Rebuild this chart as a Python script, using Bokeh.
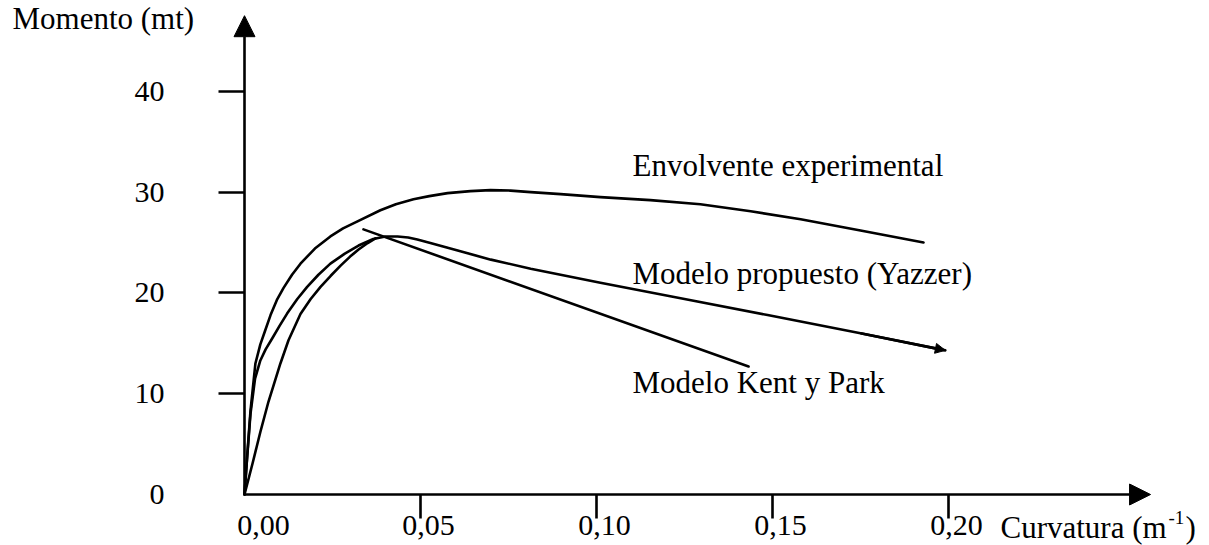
from bokeh.plotting import figure
from bokeh.models import (Range1d, LinearAxis, FixedTicker, Arrow, NormalHead, Label)
from bokeh.embed import file_html
from bokeh.resources import INLINE

# ---------------- data ----------------
env_x = [0.0, 0.0008, 0.0017, 0.0031, 0.0045, 0.0058, 0.0074, 0.0092, 0.0111, 0.0135,
         0.0159, 0.0200, 0.0244, 0.0280, 0.0321, 0.0386, 0.0430, 0.0480, 0.0525, 0.0577,
         0.0642, 0.0699, 0.0756, 0.0813, 0.0898, 0.1011, 0.1153, 0.1295, 0.1438, 0.1580,
         0.1750, 0.1929]
env_y = [0.0, 4.0, 8.3, 13.0, 14.9, 16.2, 17.8, 19.3, 20.5, 21.8,
         22.9, 24.4, 25.6, 26.4, 27.1, 28.2, 28.8, 29.3, 29.6, 29.9,
         30.1, 30.2, 30.15, 30.0, 29.8, 29.5, 29.2, 28.8, 28.1, 27.3,
         26.2, 25.0]

yaz_x = [0.0, 0.0007, 0.0017, 0.0030, 0.0045, 0.0060, 0.0079, 0.0100, 0.0121, 0.0150,
         0.0178, 0.0210, 0.0244, 0.0285, 0.0324, 0.0366, 0.0400, 0.0435, 0.0465, 0.0491,
         0.0528, 0.0585, 0.0700, 0.0813, 0.1011, 0.1250, 0.1486, 0.1750, 0.1991]
yaz_y = [0.0, 3.4, 8.0, 11.5, 13.3, 14.4, 15.5, 16.75, 17.95, 19.4,
         20.6, 21.8, 22.9, 23.9, 24.7, 25.35, 25.6, 25.6, 25.5, 25.3,
         24.95, 24.4, 23.3, 22.4, 21.0, 19.4, 17.8, 16.0, 14.3]

kp_up_x = [0.0, 0.0023, 0.0045, 0.0068, 0.0102, 0.0125, 0.0159, 0.0188, 0.0216, 0.0245,
           0.0273, 0.0300, 0.0324, 0.0350, 0.0372]
kp_up_y = [0.0, 3.1, 6.2, 9.2, 13.0, 15.3, 17.9, 19.4, 20.6, 21.7,
           22.7, 23.6, 24.3, 24.95, 25.4]
kp_down_x = [0.0338, 0.1432]
kp_down_y = [26.3, 12.7]

x_ticks = [0.05, 0.10, 0.15, 0.20]
x_tick_labels = ["0,05", "0,10", "0,15", "0,20"]
x_zero_label = "0,00"
y_ticks = [10, 20, 30, 40]
y_tick_labels = ["10", "20", "30", "40"]
y_zero_label = "0"

x_axis_end = 0.2574
y_axis_end = 47.5

curve_names = ["Envolvente experimental", "Modelo propuesto (Yazzer)", "Modelo Kent y Park"]
y_title = "Momento (mt)"
x_title_main = "Curvatura (m"
x_title_sup = "-1"
x_title_close = ")"

# ---------------- layout ----------------
W, H = 1209, 545
OX, OY = 244, 494          # pixel of the origin
SX, SY = 3520.0, 10.08     # pixels per data unit
LABEL_DY = 10              # correction of label baseline placement (px)


def dx(px):
    return (px - OX) / SX


def dy(py):
    return (OY - py) / SY


def ly(py):
    return dy(py - LABEL_DY)


p = figure(width=W, height=H,
           x_range=Range1d(dx(0), dx(W)),
           y_range=Range1d(dy(H), dy(0)),
           output_backend="svg", toolbar_location=None,
           x_axis_type=None, y_axis_type=None, min_border=0)
p.outline_line_color = None
p.background_fill_color = "white"
p.border_fill_color = "white"

FONT = "Liberation Serif"
LW = 2.6


def style_axis(ax, tick_out, standoff, show_ticks=True, show_labels=True):
    ax.axis_line_color = None
    ax.major_tick_in = 0
    ax.major_tick_out = tick_out
    ax.major_tick_line_color = "black" if show_ticks else None
    ax.major_tick_line_width = LW
    ax.minor_tick_line_color = None
    ax.major_label_text_font = FONT
    ax.major_label_text_font_size = "30px"
    ax.major_label_text_color = "black" if show_labels else None
    ax.major_label_standoff = standoff


# x axis: tick marks
xa = LinearAxis(fixed_location=0, ticker=FixedTicker(ticks=x_ticks),
                major_label_overrides={t: l for t, l in zip(x_ticks, x_tick_labels)})
style_axis(xa, 24, -3, show_labels=False)
p.add_layout(xa, "below")
# x axis: labels (set slightly right of the tick marks, as in the reference)
LBL_SHIFT = 8 / SX
x_lbl_pos = [t + LBL_SHIFT for t in x_ticks] + [19 / SX]
x_lbl_txt = x_tick_labels + [x_zero_label]
xl = LinearAxis(fixed_location=0, ticker=FixedTicker(ticks=x_lbl_pos),
                major_label_overrides={t: l for t, l in zip(x_lbl_pos, x_lbl_txt)})
style_axis(xl, 24, -3, show_ticks=False)
p.add_layout(xl, "below")

# y axis with ticks
ya = LinearAxis(fixed_location=0, ticker=FixedTicker(ticks=y_ticks),
                major_label_overrides={t: l for t, l in zip(y_ticks, y_tick_labels)})
style_axis(ya, 26, 54)
p.add_layout(ya, "left")
ya0 = LinearAxis(fixed_location=0, ticker=FixedTicker(ticks=[0]),
                 major_label_overrides={0: y_zero_label})
style_axis(ya0, 26, 54, show_ticks=False)
p.add_layout(ya0, "left")

# axis lines with arrow heads
p.add_layout(Arrow(x_start=0, y_start=0, x_end=x_axis_end, y_end=0, line_width=LW,
                   end=NormalHead(size=21, fill_color="black", line_color="black", line_width=1)))
p.add_layout(Arrow(x_start=0, y_start=0, x_end=0, y_end=y_axis_end, line_width=LW,
                   end=NormalHead(size=21, fill_color="black", line_color="black", line_width=1)))

# curves
for xs, ys in [(env_x, env_y), (yaz_x, yaz_y), (kp_up_x, kp_up_y), (kp_down_x, kp_down_y)]:
    p.line(xs, ys, line_color="black", line_width=LW, line_join="round", line_cap="round")
p.add_layout(Arrow(x_start=yaz_x[-2], y_start=yaz_y[-2], x_end=yaz_x[-1], y_end=yaz_y[-1],
                   line_width=LW, line_color="black",
                   end=NormalHead(size=10, fill_color="black", line_color="black", line_width=1)))

# curve labels
for name, (lx, lyy) in zip(curve_names, [(632, 175), (632, 283), (632, 392)]):
    p.add_layout(Label(x=dx(lx), y=ly(lyy), text=name, text_font=FONT,
                       text_font_size="31px", text_color="black",
                       text_baseline="alphabetic", text_align="left"))

# axis titles
p.add_layout(Label(x=dx(12), y=ly(28), text=y_title, text_font=FONT, text_font_size="31px",
                   text_color="black", text_baseline="alphabetic", text_align="left"))
p.add_layout(Label(x=dx(1000), y=ly(537), text=x_title_main, text_font=FONT,
                   text_font_size="31px", text_color="black",
                   text_baseline="alphabetic", text_align="left"))
p.add_layout(Label(x=dx(1168), y=ly(527), text=x_title_sup, text_font=FONT,
                   text_font_size="19px", text_color="black",
                   text_baseline="alphabetic", text_align="left"))
p.add_layout(Label(x=dx(1185), y=ly(537), text=x_title_close, text_font=FONT,
                   text_font_size="31px", text_color="black",
                   text_baseline="alphabetic", text_align="left"))

open("out.html", "w").write(file_html(p, INLINE))
